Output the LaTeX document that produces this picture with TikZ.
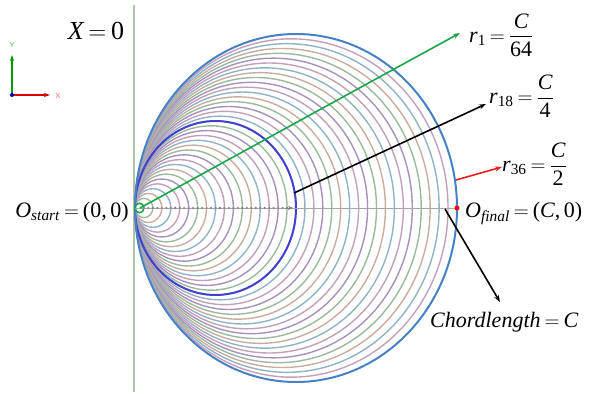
\documentclass[tikz,border=0pt]{standalone}
\usepackage{amsmath}
\usepackage{fontspec}
\setmainfont{Liberation Serif}
\usetikzlibrary{arrows.meta}
\newcommand{\ti}[1]{\textit{#1}}
\newcommand{\tr}[1]{\textrm{#1}}
\thickmuskip=3.5mu plus 1mu
\definecolor{cc0}{RGB}{195,160,185}
\definecolor{cc1}{RGB}{165,145,190}
\definecolor{cc2}{RGB}{155,185,155}
\definecolor{cc3}{RGB}{200,172,162}
\definecolor{cc4}{RGB}{145,178,200}
\definecolor{outerblue}{RGB}{70,130,195}
\definecolor{midblue}{RGB}{65,65,205}
\definecolor{vline}{RGB}{175,195,165}
\definecolor{grn}{RGB}{25,165,75}
\definecolor{redarr}{RGB}{235,30,30}
\begin{document}
\begin{tikzpicture}[x=1pt,y=-1pt,
  lbl/.style={inner sep=0pt,font=\fontsize{22}{26}\selectfont},
  ring/.style={line width=1.4pt},
  arr/.style={line width=1.6pt,-{Stealth[length=7pt,width=5pt]}}]
\useasboundingbox (0,0) rectangle (590,396);
% vertical line X=0
\coordinate (vtop) at (134,5);
\coordinate (vbot) at (134,392);
\draw[vline,line width=2pt] (vtop) -- (vbot);
% axis icon
\coordinate (ic) at (12,95);
\coordinate (icy) at (12,55);
\coordinate (icx) at (50,95);
\draw[green!60!black,line width=1.2pt,-{Stealth[length=6pt,width=4pt]}] (ic) -- (icy);
\draw[red!85!black,line width=1.2pt,-{Stealth[length=6pt,width=4pt]}] (ic) -- (icx);
\fill[blue!70!black] (ic) circle[radius=2pt];
\node[inner sep=0pt,font=\sffamily\fontsize{7}{8}\selectfont,text=green!40!gray] (ylab) at (12,45) {Y};
\node[inner sep=0pt,font=\sffamily\fontsize{7}{8}\selectfont,text=red!60] (xlab) at (58,96) {X};
% family of circles
\foreach \k [evaluate=\k as \m using {int(mod(\k,5))}] in {2,...,35}{
  \pgfmathsetmacro{\rx}{\k*4.4722}
  \pgfmathsetmacro{\ry}{\rx*1.0807}
  \draw[ring,cc\m] ({135+\rx},208) ellipse[x radius=\rx pt, y radius=\ry pt];
}
% r18 circle
\draw[midblue,line width=2pt] (215.5,208) ellipse[x radius=80.5pt, y radius=87pt];
% outer circle r36
\draw[outerblue,line width=2pt] (296,208) ellipse[x radius=161pt, y radius=174pt];
% r1 circle
\draw[grn,line width=1.6pt] (139.5,208) ellipse[x radius=4.5pt, y radius=4.8pt];
% axis line
\coordinate (O) at (135,208);
\coordinate (F) at (457,208);
\draw[gray!70,line width=0.6pt] (O) -- (F);
% centre dots
\foreach \k [evaluate=\k as \m using {int(mod(\k+2,5))}] in {2,...,34}{
  \fill[cc\m!80!black] ({135+\k*4.4722},208) circle[radius=1.3pt];
}
\coordinate (dend) at (293,208);
\coordinate (dpre) at (285,208);
\draw[gray,line width=0.6pt,-{Stealth[length=5pt,width=4pt]}] (dpre) -- (dend);
\fill[red] (F) circle[radius=2.5pt];
% labels
\node[lbl,font=\fontsize{26}{30}\selectfont,anchor=base] (x0) at (96,40) {$\ti{X}=\tr{0}$};
\node[lbl,anchor=west] (r1) at (469,35) {$\ti{r}_{\tr{1}}=\dfrac{\ti{C}}{\tr{64}}$};
\node[lbl,anchor=west] (r18) at (489,96) {$\ti{r}_{\tr{18}}=\dfrac{\ti{C}}{\tr{4}}$};
\node[lbl,anchor=west] (r36) at (502,164) {$\ti{r}_{\tr{36}}=\dfrac{\ti{C}}{\tr{2}}$};
\node[lbl,anchor=base east] (ostart) at (129,217) {$\ti{O}_{\ti{start}}=\tr{(0,\,0)}$};
\node[lbl,anchor=base west] (ofinal) at (465,218) {$\ti{O}_{\ti{final}}=\tr{(}\ti{C}\tr{,\,0)}$};
\node[lbl,anchor=base west] (chord) at (430,327) {$\ti{Chordlength}=\ti{C}$};
% arrows
\coordinate (g0) at (140,208);
\coordinate (g1) at (460,33);
\draw[arr,grn] (g0) -- (g1);
\coordinate (b0) at (294,193);
\coordinate (b1) at (486,104);
\draw[arr,black] (b0) -- (b1);
\coordinate (c0) at (456,180);
\coordinate (c1) at (502,167);
\draw[arr,redarr] (c0) -- (c1);
\coordinate (h0) at (445,209);
\coordinate (h1) at (500,302);
\draw[arr,black] (h0) -- (h1);
\end{tikzpicture}
\end{document}
